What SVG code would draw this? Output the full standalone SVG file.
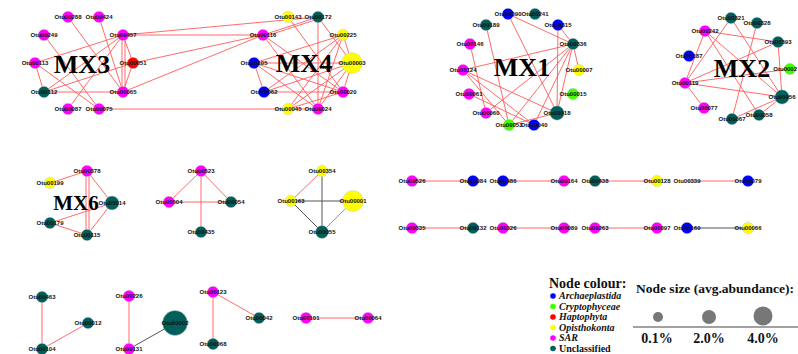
<svg xmlns="http://www.w3.org/2000/svg" width="798" height="354" viewBox="0 0 798 354">
<style>
.e{stroke:#ff5a5a;stroke-width:0.9;fill:none}
.g{stroke:#555;stroke-width:1;fill:none}
circle{stroke:#cfcfcf;stroke-width:0.5}
.mag{fill:#ff00ff}.blu{fill:#0000ff}.tea{fill:#005f5a}.red{fill:#ff0000}.yel{fill:#ffff00}.grn{fill:#40ff00}
text.l{font-family:"Liberation Sans",Arial,sans-serif;font-size:6px;font-weight:bold;fill:#111;text-anchor:middle}
text.mx{font-family:"Liberation Serif","Times New Roman",serif;font-weight:bold;font-size:26px;fill:#000;text-anchor:middle}
text.lg{font-family:"Liberation Serif","Times New Roman",serif;font-weight:bold;fill:#111}
</style>
<rect width="798" height="354" fill="#fff"/>
<g id="connectors">
<!-- MX3 -->
<line class="e" x1="68" y1="17" x2="123" y2="92"/>
<line class="e" x1="99" y1="17" x2="123" y2="92"/>
<line class="e" x1="44" y1="35" x2="99" y2="109"/>
<line class="e" x1="123" y1="35" x2="35" y2="63"/>
<line class="e" x1="123" y1="35" x2="44" y2="92"/>
<line class="e" x1="123" y1="35" x2="68" y2="109"/>
<line class="e" x1="122" y1="35" x2="122" y2="92"/>
<line class="e" x1="125" y1="35" x2="125" y2="92"/>
<line class="e" x1="123" y1="35" x2="133" y2="63"/>
<line class="e" x1="35" y1="63" x2="44" y2="92"/>
<line class="e" x1="35" y1="63" x2="99" y2="109"/>
<line class="e" x1="44" y1="92" x2="123" y2="92"/>
<line class="e" x1="44" y1="92" x2="133" y2="63"/>
<line class="e" x1="123" y1="92" x2="133" y2="63"/>
<line class="e" x1="123" y1="35" x2="318" y2="17"/>
<line class="e" x1="123" y1="35" x2="263" y2="35"/>
<line class="e" x1="133" y1="63" x2="263" y2="35"/>
<line class="e" x1="123" y1="92" x2="263" y2="35"/>
<line class="e" x1="99" y1="109" x2="288" y2="109"/>
<!-- MX4 -->
<line class="e" x1="263" y1="35" x2="318" y2="17"/>
<line class="e" x1="263" y1="37" x2="318" y2="19"/>
<line class="e" x1="263" y1="35" x2="343" y2="92"/>
<line class="e" x1="263" y1="35" x2="318" y2="109"/>
<line class="e" x1="318" y1="17" x2="318" y2="109"/>
<line class="e" x1="318" y1="17" x2="352" y2="63"/>
<line class="e" x1="343" y1="35" x2="254" y2="63"/>
<line class="e" x1="343" y1="35" x2="264" y2="92"/>
<line class="e" x1="343" y1="35" x2="288" y2="109"/>
<line class="e" x1="343" y1="35" x2="318" y2="109"/>
<line class="e" x1="343" y1="35" x2="352" y2="63"/>
<line class="e" x1="352" y1="63" x2="254" y2="63"/>
<line class="e" x1="352" y1="63" x2="264" y2="92"/>
<line class="e" x1="352" y1="63" x2="288" y2="109"/>
<line class="e" x1="352" y1="63" x2="318" y2="109"/>
<line class="e" x1="352" y1="63" x2="343" y2="92"/>
<line class="e" x1="343" y1="92" x2="264" y2="92"/>
<line class="e" x1="343" y1="92" x2="254" y2="63"/>
<line class="e" x1="343" y1="92" x2="288" y2="109"/>
<line class="e" x1="318" y1="109" x2="288" y2="109"/>
<line class="e" x1="318" y1="109" x2="254" y2="63"/>
<line class="e" x1="254" y1="63" x2="264" y2="92"/>
<line class="e" x1="288" y1="17" x2="343" y2="92"/>
<!-- MX1 -->
<line class="e" x1="508" y1="14" x2="573" y2="44"/>
<line class="e" x1="508" y1="14" x2="557" y2="113"/>
<line class="e" x1="486" y1="25" x2="509" y2="125"/>
<line class="e" x1="470" y1="44" x2="486" y2="113"/>
<line class="e" x1="558" y1="25" x2="573" y2="44"/>
<line class="e" x1="558" y1="25" x2="557" y2="113"/>
<line class="e" x1="573" y1="44" x2="463" y2="70"/>
<line class="e" x1="573" y1="44" x2="579" y2="70"/>
<line class="e" x1="573" y1="44" x2="557" y2="113"/>
<line class="e" x1="573" y1="44" x2="486" y2="113"/>
<line class="e" x1="573" y1="44" x2="509" y2="125"/>
<line class="e" x1="573" y1="44" x2="534" y2="125"/>
<line class="e" x1="463" y1="70" x2="557" y2="113"/>
<line class="e" x1="463" y1="70" x2="534" y2="125"/>
<line class="e" x1="463" y1="70" x2="509" y2="125"/>
<line class="e" x1="469" y1="94" x2="534" y2="125"/>
<line class="e" x1="557" y1="113" x2="509" y2="125"/>
<!-- MX2 -->
<line class="e" x1="731" y1="18" x2="685" y2="83"/>
<line class="e" x1="731" y1="18" x2="782" y2="97"/>
<line class="e" x1="757" y1="23" x2="732" y2="119"/>
<line class="e" x1="705" y1="31" x2="778" y2="42"/>
<line class="e" x1="705" y1="31" x2="759" y2="115"/>
<line class="e" x1="705" y1="31" x2="782" y2="97"/>
<line class="e" x1="778" y1="42" x2="782" y2="97"/>
<line class="e" x1="778" y1="42" x2="685" y2="83"/>
<line class="e" x1="685" y1="83" x2="790" y2="69"/>
<line class="e" x1="685" y1="83" x2="782" y2="97"/>
<line class="e" x1="685" y1="83" x2="704" y2="108"/>
<line class="e" x1="685" y1="83" x2="705" y2="31"/>
<line class="e" x1="782" y1="97" x2="732" y2="119"/>
<line class="e" x1="782" y1="97" x2="759" y2="115"/>
<!-- MX6 -->
<line class="e" x1="87" y1="171" x2="50" y2="183"/>
<line class="e" x1="87" y1="171" x2="112" y2="203"/>
<line class="e" x1="86" y1="171" x2="86" y2="235"/>
<line class="e" x1="89" y1="171" x2="89" y2="235"/>
<line class="e" x1="112" y1="203" x2="50" y2="223"/>
<line class="e" x1="112" y1="203" x2="87" y2="235"/>
<line class="e" x1="50" y1="223" x2="87" y2="235"/>
<!-- group 2 -->
<line class="e" x1="201" y1="171" x2="169" y2="202"/>
<line class="e" x1="201" y1="171" x2="231" y2="202"/>
<line class="e" x1="169" y1="202" x2="231" y2="202"/>
<line class="e" x1="201" y1="171" x2="201" y2="232"/>
<!-- group 3 -->
<line class="e" x1="322" y1="171" x2="291" y2="201"/>
<line class="g" x1="322" y1="171" x2="322" y2="232"/>
<line class="g" x1="291" y1="201" x2="353" y2="201"/>
<line class="g" x1="291" y1="201" x2="322" y2="232"/>
<line class="e" x1="353" y1="201" x2="322" y2="232"/>
<!-- pairs -->
<line class="e" x1="412" y1="181" x2="473" y2="181"/>
<line class="e" x1="503" y1="181" x2="564" y2="181"/>
<line class="e" x1="595" y1="181" x2="657" y2="181"/>
<line class="e" x1="687" y1="181" x2="748" y2="181"/>
<line class="e" x1="412" y1="228" x2="473" y2="228"/>
<line class="e" x1="503" y1="228" x2="564" y2="228"/>
<line class="e" x1="595" y1="228" x2="657" y2="228"/>
<line class="g" x1="687" y1="228" x2="748" y2="228"/>
<!-- bottom -->
<line class="e" x1="42" y1="297" x2="42" y2="349"/>
<line class="e" x1="42" y1="349" x2="88" y2="323"/>
<line class="e" x1="129" y1="296" x2="129" y2="349"/>
<line class="g" x1="129" y1="349" x2="175" y2="323"/>
<line class="e" x1="213" y1="292" x2="259" y2="318"/>
<line class="e" x1="213" y1="292" x2="213" y2="344"/>
<line class="e" x1="306" y1="318" x2="368" y2="318"/>
</g>
<!-- MX3 nodes -->
<g id="n-Otu00288"><circle class="mag" cx="68" cy="17" r="5.8"/><text class="l" x="68" y="19.2">Otu00288</text></g>
<g id="n-Otu00424"><circle class="mag" cx="99" cy="17" r="5.8"/><text class="l" x="99" y="19.2">Otu00424</text></g>
<g id="n-Otu00249"><circle class="mag" cx="44" cy="35" r="5.8"/><text class="l" x="44" y="37.2">Otu00249</text></g>
<g id="n-Otu00457"><circle class="mag" cx="123" cy="35" r="5.8"/><text class="l" x="123" y="37.2">Otu00457</text></g>
<g id="n-Otu00113"><circle class="mag" cx="35" cy="63" r="5.8"/><text class="l" x="35" y="65.2">Otu00113</text></g>
<g id="n-Otu00051"><circle class="red" cx="133" cy="63" r="5.8"/><text class="l" x="133" y="65.2">Otu00051</text></g>
<g id="n-Otu00112"><circle class="tea" cx="44" cy="92" r="5.8"/><text class="l" x="44" y="94.2">Otu00112</text></g>
<g id="n-Otu00065"><circle class="mag" cx="123" cy="92" r="5.8"/><text class="l" x="123" y="94.2">Otu00065</text></g>
<g id="n-Otu00087"><circle class="mag" cx="68" cy="109" r="5.8"/><text class="l" x="68" y="111.2">Otu00087</text></g>
<g id="n-Otu00075"><circle class="mag" cx="99" cy="109" r="5.8"/><text class="l" x="99" y="111.2">Otu00075</text></g>
<g id="lab-MX3"><text class="mx" x="82" y="73">MX3</text></g>
<!-- MX4 nodes -->
<g id="n-Otu00143"><circle class="yel" cx="288" cy="17" r="5.8"/><text class="l" x="288" y="19.2">Otu00143</text></g>
<g id="n-Otu00172"><circle class="tea" cx="318" cy="17" r="5.8"/><text class="l" x="318" y="19.2">Otu00172</text></g>
<g id="n-Otu00116"><circle class="mag" cx="263" cy="35" r="5.8"/><text class="l" x="263" y="37.2">Otu00116</text></g>
<g id="n-Otu00225"><circle class="yel" cx="343" cy="35" r="5.8"/><text class="l" x="343" y="37.2">Otu00225</text></g>
<g id="n-Otu00105"><circle class="blu" cx="254" cy="63" r="5.8"/><text class="l" x="254" y="65.2">Otu00105</text></g>
<g id="n-Otu00003"><circle class="yel" cx="352" cy="63" r="10.5"/><text class="l" x="352" y="65.2">Otu00003</text></g>
<g id="n-Otu00062"><circle class="blu" cx="264" cy="92" r="5.8"/><text class="l" x="264" y="94.2">Otu00062</text></g>
<g id="n-Otu00020"><circle class="mag" cx="343" cy="92" r="5.8"/><text class="l" x="343" y="94.2">Otu00020</text></g>
<g id="n-Otu00045"><circle class="yel" cx="288" cy="109" r="5.8"/><text class="l" x="288" y="111.2">Otu00045</text></g>
<g id="n-Otu00024"><circle class="mag" cx="318" cy="109" r="5.8"/><text class="l" x="318" y="111.2">Otu00024</text></g>
<g id="lab-MX4"><text class="mx" x="304" y="72">MX4</text></g>
<!-- MX1 nodes -->
<g id="n-Otu00090"><circle class="blu" cx="508" cy="14" r="5.8"/><text class="l" x="508" y="16.2">Otu00090</text></g>
<g id="n-Otu00241"><circle class="tea" cx="535" cy="14" r="5.8"/><text class="l" x="535" y="16.2">Otu00241</text></g>
<g id="n-Otu00189"><circle class="tea" cx="486" cy="25" r="5.8"/><text class="l" x="486" y="27.2">Otu00189</text></g>
<g id="n-Otu00315"><circle class="blu" cx="558" cy="25" r="5.8"/><text class="l" x="558" y="27.2">Otu00315</text></g>
<g id="n-Otu00146"><circle class="mag" cx="470" cy="44" r="5.8"/><text class="l" x="470" y="46.2">Otu00146</text></g>
<g id="n-Otu00336"><circle class="tea" cx="573" cy="44" r="5.8"/><text class="l" x="573" y="46.2">Otu00336</text></g>
<g id="n-Otu00124"><circle class="mag" cx="463" cy="70" r="5.8"/><text class="l" x="463" y="72.2">Otu00124</text></g>
<g id="n-Otu00007"><circle class="yel" cx="579" cy="70" r="5.8"/><text class="l" x="579" y="72.2">Otu00007</text></g>
<g id="n-Otu00061"><circle class="mag" cx="469" cy="94" r="5.8"/><text class="l" x="469" y="96.2">Otu00061</text></g>
<g id="n-Otu00015"><circle class="grn" cx="573" cy="94" r="5.8"/><text class="l" x="573" y="96.2">Otu00015</text></g>
<g id="n-Otu00060"><circle class="mag" cx="486" cy="113" r="5.8"/><text class="l" x="486" y="115.2">Otu00060</text></g>
<g id="n-Otu00018"><circle class="tea" cx="557" cy="113" r="7.2"/><text class="l" x="557" y="115.2">Otu00018</text></g>
<g id="n-Otu00053"><circle class="grn" cx="509" cy="125" r="5.8"/><text class="l" x="509" y="127.2">Otu00053</text></g>
<g id="n-Otu00040"><circle class="blu" cx="534" cy="125" r="5.8"/><text class="l" x="534" y="127.2">Otu00040</text></g>
<g id="lab-MX1"><text class="mx" x="522" y="76">MX1</text></g>
<!-- MX2 nodes -->
<g id="n-Otu00321"><circle class="tea" cx="731" cy="18" r="5.8"/><text class="l" x="731" y="20.2">Otu00321</text></g>
<g id="n-Otu00328"><circle class="tea" cx="757" cy="23" r="5.8"/><text class="l" x="757" y="25.2">Otu00328</text></g>
<g id="n-Otu00242"><circle class="mag" cx="705" cy="31" r="5.8"/><text class="l" x="705" y="33.2">Otu00242</text></g>
<g id="n-Otu00393"><circle class="tea" cx="778" cy="42" r="5.8"/><text class="l" x="778" y="44.2">Otu00393</text></g>
<g id="n-Otu00187"><circle class="blu" cx="689" cy="56" r="5.8"/><text class="l" x="689" y="58.2">Otu00187</text></g>
<g id="n-Otu0002"><circle class="grn" cx="790" cy="69" r="5.8"/><text class="l" x="797" y="71.2" style="text-anchor:end">Otu0002</text></g>
<g id="n-Otu00119"><circle class="mag" cx="685" cy="83" r="5.8"/><text class="l" x="685" y="85.2">Otu00119</text></g>
<g id="n-Otu00056"><circle class="tea" cx="782" cy="97" r="7.2"/><text class="l" x="782" y="99.2">Otu00056</text></g>
<g id="n-Otu00077"><circle class="mag" cx="704" cy="108" r="5.8"/><text class="l" x="704" y="110.2">Otu00077</text></g>
<g id="n-Otu00058"><circle class="tea" cx="759" cy="115" r="5.8"/><text class="l" x="759" y="117.2">Otu00058</text></g>
<g id="n-Otu00067"><circle class="tea" cx="732" cy="119" r="5.8"/><text class="l" x="732" y="121.2">Otu00067</text></g>
<g id="lab-MX2"><text class="mx" x="742" y="77">MX2</text></g>
<!-- MX6 -->
<g id="n-Otu00378"><circle class="mag" cx="87" cy="171" r="5.8"/><text class="l" x="87" y="173.2">Otu00378</text></g>
<g id="n-Otu00199"><circle class="yel" cx="50" cy="183" r="5.8"/><text class="l" x="50" y="185.2">Otu00199</text></g>
<g id="n-Otu00014"><circle class="tea" cx="112" cy="203" r="7"/><text class="l" x="112" y="205.2">Otu00014</text></g>
<g id="n-Otu00179"><circle class="tea" cx="50" cy="223" r="5.8"/><text class="l" x="50" y="225.2">Otu00179</text></g>
<g id="n-Otu00115"><circle class="tea" cx="87" cy="235" r="5.8"/><text class="l" x="87" y="237.2">Otu00115</text></g>
<g id="lab-MX6"><text class="mx" x="76" y="210" style="font-size:21px">MX6</text></g>
<!-- group 2 -->
<g id="n-Otu00523"><circle class="mag" cx="201" cy="171" r="5.8"/><text class="l" x="201" y="173.2">Otu00523</text></g>
<g id="n-Otu00504"><circle class="mag" cx="169" cy="202" r="5.8"/><text class="l" x="169" y="204.2">Otu00504</text></g>
<g id="n-Otu00054"><circle class="tea" cx="231" cy="202" r="5.8"/><text class="l" x="231" y="204.2">Otu00054</text></g>
<g id="n-Otu00435"><circle class="tea" cx="201" cy="232" r="5.8"/><text class="l" x="201" y="234.2">Otu00435</text></g>
<!-- group 3 -->
<g id="n-Otu00354"><circle class="yel" cx="322" cy="171" r="5.8"/><text class="l" x="322" y="173.2">Otu00354</text></g>
<g id="n-Otu00163"><circle class="yel" cx="291" cy="201" r="5.8"/><text class="l" x="291" y="203.2">Otu00163</text></g>
<g id="n-Otu00001"><circle class="yel" cx="353" cy="201" r="10.5"/><text class="l" x="353" y="203.2">Otu00001</text></g>
<g id="n-Otu00055"><circle class="tea" cx="322" cy="232" r="6.5"/><text class="l" x="322" y="234.2">Otu00055</text></g>
<!-- pairs row 1 -->
<g id="n-Otu00526"><circle class="mag" cx="412" cy="181" r="5.8"/><text class="l" x="412" y="183.2">Otu00526</text></g>
<g id="n-Otu00084"><circle class="blu" cx="473" cy="181" r="5.8"/><text class="l" x="473" y="183.2">Otu00084</text></g>
<g id="n-Otu00486"><circle class="blu" cx="503" cy="181" r="5.8"/><text class="l" x="503" y="183.2">Otu00486</text></g>
<g id="n-Otu00164"><circle class="mag" cx="564" cy="181" r="5.8"/><text class="l" x="564" y="183.2">Otu00164</text></g>
<g id="n-Otu00438"><circle class="tea" cx="595" cy="181" r="5.8"/><text class="l" x="595" y="183.2">Otu00438</text></g>
<g id="n-Otu00128"><circle class="yel" cx="657" cy="181" r="5.8"/><text class="l" x="657" y="183.2">Otu00128</text></g>
<g id="n-Otu00339"><text class="l" x="687" y="183.2">Otu00339</text></g>
<g id="n-Otu00079"><circle class="blu" cx="748" cy="181" r="5.8"/><text class="l" x="748" y="183.2">Otu00079</text></g>
<!-- pairs row 2 -->
<g id="n-Otu00335"><circle class="mag" cx="412" cy="228" r="5.8"/><text class="l" x="412" y="230.2">Otu00335</text></g>
<g id="n-Otu00132"><circle class="tea" cx="473" cy="228" r="5.8"/><text class="l" x="473" y="230.2">Otu00132</text></g>
<g id="n-Otu00326"><circle class="mag" cx="503" cy="228" r="5.8"/><text class="l" x="503" y="230.2">Otu00326</text></g>
<g id="n-Otu00089"><circle class="mag" cx="564" cy="228" r="5.8"/><text class="l" x="564" y="230.2">Otu00089</text></g>
<g id="n-Otu00263"><circle class="mag" cx="595" cy="228" r="5.8"/><text class="l" x="595" y="230.2">Otu00263</text></g>
<g id="n-Otu00097"><circle class="mag" cx="657" cy="228" r="5.8"/><text class="l" x="657" y="230.2">Otu00097</text></g>
<g id="n-Otu00160"><circle class="blu" cx="687" cy="228" r="5.8"/><text class="l" x="687" y="230.2">Otu00160</text></g>
<g id="n-Otu00066"><circle class="yel" cx="748" cy="228" r="5.8"/><text class="l" x="748" y="230.2">Otu00066</text></g>
<!-- bottom -->
<g id="n-Otu00463"><circle class="tea" cx="42" cy="297" r="5.8"/><text class="l" x="42" y="299.2">Otu00463</text></g>
<g id="n-Otu00012"><circle class="tea" cx="88" cy="323" r="5.8"/><text class="l" x="88" y="325.2">Otu00012</text></g>
<g id="n-Otu00104"><circle class="tea" cx="42" cy="349" r="5.8"/><text class="l" x="42" y="351.2">Otu00104</text></g>
<g id="n-Otu00226"><circle class="mag" cx="129" cy="296" r="5.8"/><text class="l" x="129" y="298.2">Otu00226</text></g>
<g id="n-Otu00131"><circle class="mag" cx="129" cy="349" r="5.8"/><text class="l" x="129" y="351.2">Otu00131</text></g>
<g id="n-Otu00002"><circle class="tea" cx="175" cy="323" r="12.5"/><text class="l" x="175" y="325.2">Otu00002</text></g>
<g id="n-Otu00123"><circle class="mag" cx="213" cy="292" r="5.8"/><text class="l" x="213" y="294.2">Otu00123</text></g>
<g id="n-Otu00042"><circle class="tea" cx="259" cy="318" r="5.8"/><text class="l" x="259" y="320.2">Otu00042</text></g>
<g id="n-Otu00068"><circle class="tea" cx="213" cy="344" r="5.8"/><text class="l" x="213" y="346.2">Otu00068</text></g>
<g id="n-Otu00101"><circle class="mag" cx="306" cy="318" r="5.8"/><text class="l" x="306" y="320.2">Otu00101</text></g>
<g id="n-Otu00064"><circle class="mag" cx="368" cy="318" r="5.8"/><text class="l" x="368" y="320.2">Otu00064</text></g>
<!-- legend -->
<g id="legend-colour">
<text class="lg" x="549" y="288" font-size="14">Node colour:</text>
<circle class="blu" cx="553" cy="296" r="2.8" style="stroke:none"/>
<circle class="grn" cx="553" cy="306.5" r="2.8" style="stroke:none"/>
<circle class="red" cx="553" cy="317" r="2.8" style="stroke:none"/>
<circle class="yel" cx="553" cy="327.5" r="2.8" style="stroke:none"/>
<circle class="mag" cx="553" cy="338" r="2.8" style="stroke:none"/>
<circle class="tea" cx="553" cy="348.5" r="2.8" style="stroke:none"/>
<text class="lg" x="559" y="299.3" font-size="10" font-style="italic">Archaeplastida</text>
<text class="lg" x="559" y="309.8" font-size="10" font-style="italic">Cryptophyceae</text>
<text class="lg" x="559" y="320.3" font-size="10" font-style="italic">Haptophyta</text>
<text class="lg" x="559" y="330.8" font-size="10" font-style="italic">Opisthokonta</text>
<text class="lg" x="559" y="341.3" font-size="10" font-style="italic">SAR</text>
<text class="lg" x="559" y="351.8" font-size="10">Unclassified</text>
</g>
<g id="legend-size">
<text class="lg" x="636" y="293" font-size="13.5">Node size (avg.abundance):</text>
<circle cx="658" cy="317" r="5" fill="#777" style="stroke:none"/>
<circle cx="709" cy="317" r="7" fill="#777" style="stroke:none"/>
<circle cx="763" cy="316" r="9.5" fill="#777" style="stroke:none"/>
<line x1="633" y1="327" x2="798" y2="327" stroke="#444" stroke-width="1"/>
<text class="lg" x="657" y="343" font-size="14" text-anchor="middle">0.1%</text>
<text class="lg" x="709" y="343" font-size="14" text-anchor="middle">2.0%</text>
<text class="lg" x="763" y="343" font-size="14" text-anchor="middle">4.0%</text>
</g>
</svg>
